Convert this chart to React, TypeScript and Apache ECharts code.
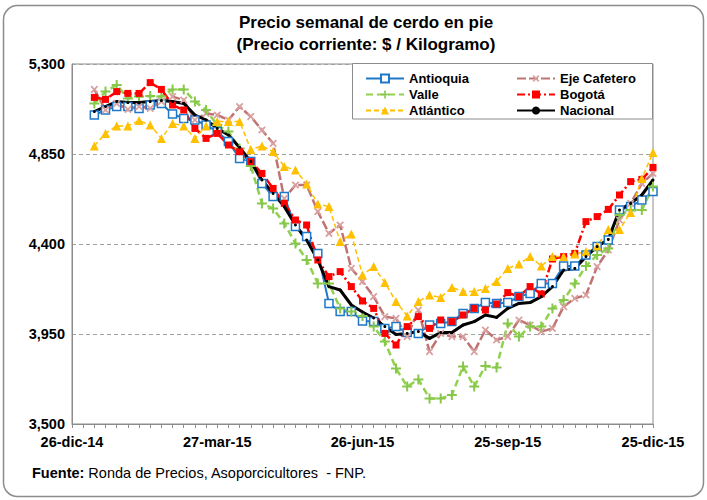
import React, { useEffect, useRef } from "react";
import * as echarts from "echarts";

// Weekly data: first observation 2 weeks after 26-dic-14, last on 25-dic-15
const firstWeek = 2;
const xTickLabels = ["26-dic-14", "27-mar-15", "26-jun-15", "25-sep-15", "25-dic-15"];

const antioquia = [5045,5070,5087,5087,5078,5095,5103,5050,5028,5020,4995,4962,4912,4828,4812,4703,4637,4637,4487,4437,4353,4103,4062,4062,4015,4012,3978,3987,3957,3953,3995,4003,4012,4053,4078,4107,4103,4107,4137,4153,4203,4203,4290,4290,4345,4387,4420,4570,4587,4620,4662];
const ejeCafetero = [5173,5070,5103,5073,5087,5078,5112,5137,5120,5020,5053,5045,5020,5087,5037,4970,4903,4628,4695,4695,4562,4453,4495,4278,4212,4137,4037,4028,3937,4070,3862,3953,3937,3937,3862,3970,3920,3937,4020,3995,3962,3978,4087,4128,4145,4287,4370,4520,4603,4703,4753];
const valle = [5103,5162,5195,5128,5137,5140,5137,5173,5173,5112,5070,4995,4962,4878,4790,4603,4578,4503,4403,4320,4203,4203,4078,4062,4040,3987,3912,3778,3687,3723,3628,3628,3645,3787,3687,3790,3783,4003,3937,3987,3987,4078,4120,4203,4290,4345,4378,4545,4570,4570,4687];
const bogota = [5133,5123,5162,5153,5153,5207,5173,5095,5070,4978,4928,4953,4895,4862,4812,4753,4678,4603,4520,4495,4320,4237,4262,4187,4115,4078,3953,3895,3987,4037,3978,4020,4012,4045,4078,4070,4100,4157,4137,4187,4150,4325,4337,4353,4512,4537,4573,4645,4712,4723,4783];
const atlantico = [4890,4953,4990,4990,5017,4995,4928,5003,4990,4928,4990,5012,5012,5012,4873,4890,4862,4787,4770,4700,4600,4587,4412,4450,4245,4287,4207,4112,4040,4112,4145,4133,4183,4162,4162,4178,4212,4278,4300,4337,4290,4337,4337,4350,4362,4390,4473,4473,4557,4728,4857];
const nacional = [5062,5087,5112,5107,5107,5112,5117,5112,5103,5045,5020,4978,4945,4883,4812,4720,4653,4587,4495,4420,4320,4187,4170,4095,4060,4030,3987,3948,3953,3962,3928,3957,3957,3995,4012,4045,4033,4078,4103,4107,4137,4187,4270,4278,4337,4387,4423,4570,4603,4645,4720];

const FONT = "'Liberation Sans Narrow', 'Arial Narrow', 'Liberation Sans', Arial, sans-serif";
const PLUS = "path://M4,0H6V4H10V6H6V10H4V6H0V4H4Z";

const toPoints = (arr: number[]) => arr.map((v, i) => [i + firstWeek, v]);

export default function App() {
  const ref = useRef<HTMLDivElement>(null);
  useEffect(() => {
    if (!ref.current) return;
    const chart = echarts.init(ref.current, null, { renderer: "svg" });
    const mkSeries = (name: string, data: number[], extra: any) => ({
      name,
      type: "line",
      data: toPoints(data),
      showSymbol: true,
      ...extra,
    });
    chart.setOption({
      animation: false,
      textStyle: { fontFamily: FONT },
      grid: { left: 72, right: 54, top: 64, bottom: 76, show: true, borderColor: "#8c8c8c", borderWidth: 1, backgroundColor: "#fff" },
      graphic: [
        { type: "rect", z: -10, shape: { x: 3.5, y: 5.5, width: 700, height: 491, r: 14 }, style: { fill: "#fff", stroke: "#8c8c8c", lineWidth: 1.5 } },
        { type: "text", x: 366, y: 22, style: { text: "Precio semanal de cerdo en pie", font: `bold 17px ${FONT}`, fill: "#000", align: "center", verticalAlign: "middle" } },
        { type: "text", x: 366, y: 44, style: { text: "(Precio corriente: $ / Kilogramo)", font: `bold 17px ${FONT}`, fill: "#000", align: "center", verticalAlign: "middle" } },
        { type: "rect", z: 5, shape: { x: 352.5, y: 63.5, width: 300, height: 55.5 }, style: { fill: "#fff", stroke: "#8c8c8c", lineWidth: 1 } },
        {
          type: "text", x: 32, y: 473,
          style: {
            text: "{b|Fuente:} Ronda de Precios, Asoporcicultores  - FNP.",
            font: `14.5px ${FONT}`, fill: "#000", verticalAlign: "middle",
            rich: { b: { font: `bold 14.5px ${FONT}`, fill: "#000" } },
          },
        },
      ],
      legend: [
        {
          z: 10, orient: "vertical", left: 360, top: 67, itemGap: 3, itemWidth: 38, itemHeight: 10,
          textStyle: { fontFamily: FONT, fontWeight: "bold", fontSize: 13, color: "#000" },
          data: ["Antioquia", "Valle", "Atlántico"],
        },
        {
          z: 10, orient: "vertical", left: 511, top: 67, itemGap: 3, itemWidth: 38, itemHeight: 10,
          textStyle: { fontFamily: FONT, fontWeight: "bold", fontSize: 13, color: "#000" },
          data: ["Eje Cafetero", "Bogotá", "Nacional"],
        },
      ],
      xAxis: {
        type: "value", min: 0, max: 52, interval: 13,
        axisLine: { show: true, lineStyle: { color: "#8c8c8c" } },
        axisTick: { show: true, length: 4, lineStyle: { color: "#8c8c8c" } },
        minorTick: { show: true, splitNumber: 13, length: 4, lineStyle: { color: "#8c8c8c" } },
        splitLine: { show: false },
        axisLabel: {
          margin: 10, fontFamily: FONT, fontWeight: "bold", fontSize: 14.5, color: "#000",
          formatter: (v: number) => xTickLabels[Math.round(v / 13)] ?? "",
        },
      },
      yAxis: {
        type: "value", min: 3500, max: 5300, interval: 450,
        axisLine: { show: true, lineStyle: { color: "#8c8c8c" } },
        axisTick: { show: false },
        splitLine: { show: true, lineStyle: { color: "#a0a0a0", type: [4, 3] } },
        axisLabel: {
          margin: 7, fontFamily: FONT, fontWeight: "bold", fontSize: 14.5, color: "#000",
          formatter: (v: number) => v.toLocaleString("en-US"),
        },
      },
      series: [
        mkSeries("Antioquia", antioquia, {
          color: "#1f77c8", symbol: "rect", symbolSize: 8,
          itemStyle: { color: "#fff", borderColor: "#1f77c8", borderWidth: 1.5 },
          lineStyle: { color: "#1f77c8", width: 2 },
        }),
        mkSeries("Eje Cafetero", ejeCafetero, {
          color: "#c07373", symbol: PLUS, symbolSize: 9, symbolRotate: 45,
          itemStyle: { color: "#d9a0a0" },
          lineStyle: { color: "#c07373", width: 2.5, type: [9, 3] },
        }),
        mkSeries("Valle", valle, {
          color: "#86c84a", symbol: PLUS, symbolSize: 10,
          itemStyle: { color: "#86c84a" },
          lineStyle: { color: "#92d050", width: 2.5, type: [7, 4] },
        }),
        mkSeries("Bogotá", bogota, {
          color: "#ff0000", symbol: "rect", symbolSize: 7,
          itemStyle: { color: "#ff0000" },
          lineStyle: { color: "#ff0000", width: 2.5, type: [8, 3, 2, 3] },
        }),
        mkSeries("Atlántico", atlantico, {
          color: "#ffc000", symbol: "triangle", symbolSize: 9,
          itemStyle: { color: "#ffc000" },
          lineStyle: { color: "#ffc000", width: 1.5, type: [5, 3] },
        }),
        mkSeries("Nacional", nacional, {
          color: "#000", symbol: "circle", symbolSize: 3,
          itemStyle: { color: "#000" },
          lineStyle: { color: "#000", width: 3 },
        }),
      ],
    });
    return () => chart.dispose();
  }, []);
  return <div ref={ref} style={{ position: "absolute", left: 0, top: 0, width: 707, height: 500 }} />;
}
